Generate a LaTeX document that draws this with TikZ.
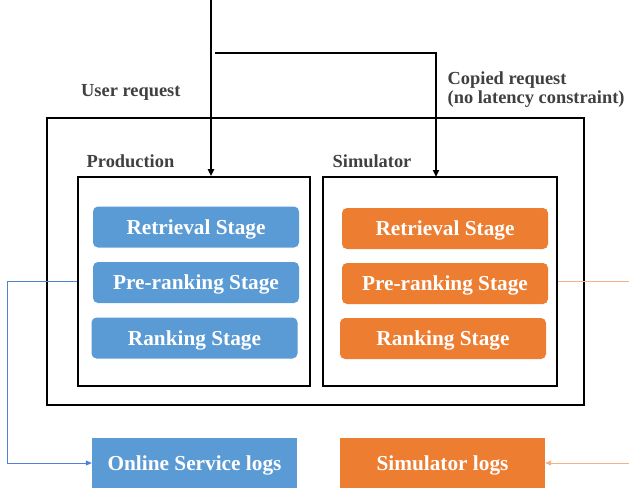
\documentclass[tikz,border=0pt]{standalone}
\usepackage{fontspec}
\setmainfont{Liberation Serif}
\usetikzlibrary{arrows.meta,calc}
\definecolor{sblue}{HTML}{5B9BD5}
\definecolor{sorange}{HTML}{ED7D31}
\definecolor{lblue}{HTML}{4F81D9}
\definecolor{lorange}{HTML}{F4B183}
\definecolor{lbl}{HTML}{404040}
\tikzset{
  stagebox/.style={rounded corners=5pt, text=white, font=\fontsize{21.3}{24}\selectfont\bfseries, minimum width=206pt, minimum height=41pt, inner sep=0pt, text height=14pt, text depth=0pt},
  bstage/.style={stagebox, fill=sblue},
  ostage/.style={stagebox, fill=sorange},
  logbox/.style={text=white, font=\fontsize{21.3}{24}\selectfont\bfseries, minimum width=205pt, minimum height=50pt, inner sep=0pt, text height=14pt, text depth=0pt},
  lab/.style={text=lbl, font=\fontsize{18.4}{22}\selectfont\bfseries, inner sep=0pt, anchor=base west},
  framebox/.style={draw=black, line width=1.6pt, minimum height=#1, inner sep=0pt},
  main/.style={line width=2pt, -{Triangle[length=7pt,width=6pt]}},
  thinline/.style={line width=0.8pt},
  thinarrow/.style={line width=0.8pt, -{Triangle[length=6pt,width=5pt]}},
}
\begin{document}
\begin{tikzpicture}[x=1pt,y=-1pt]
\useasboundingbox (0,0) rectangle (629,491);
\node[framebox=287pt, minimum width=537pt] (outer) at (315.5,261.5) {};
\node[framebox=209pt, minimum width=232pt] (prod) at (194,281.5) {};
\node[framebox=209pt, minimum width=234pt] (sim) at (440,281.5) {};
\node[bstage] (r1) at (196,227) {Retrieval Stage};
\node[bstage] (r2) at (196,282.5) {Pre-ranking Stage};
\node[bstage] (r3) at (194.5,338) {Ranking Stage};
\node[ostage] (o1) at (445,228.5) {Retrieval Stage};
\node[ostage] (o2) at (445,283.5) {Pre-ranking Stage};
\node[ostage] (o3) at (443,338.5) {Ranking Stage};
\node[logbox, fill=sblue] (onl) at (194.5,463) {Online Service logs};
\node[logbox, fill=sorange] (siml) at (442.5,463) {Simulator logs};
\node[lab] (lu) at (81,96) {User request};
\node[lab] (lc1) at (447.5,84.3) {Copied request};
\node[lab] (lc2) at (447.5,103.5) {(no latency constraint)};
\node[lab] (lp) at (86.5,167) {Production};
\node[lab] (ls) at (332.5,167) {Simulator};
\coordinate (top) at (211,0);
\coordinate (br) at (215,53);
\coordinate (simin) at (436,177);
\draw[main] (top) -- (top |- prod.north);
\draw[line width=2pt] (br) -| ($(simin)+(0,-10)$);
\draw[main] ($(simin)+(0,-11)$) -- (simin);
\coordinate (lcorner) at (7,0);
\draw[lblue, thinarrow] (prod.west) -- (prod.west -| lcorner) |- (onl.west);
\coordinate (redge) at (629,0);
\draw[lorange, thinline] (sim.east) -- (sim.east -| redge);
\draw[lorange, thinarrow] (siml.east -| redge) -- (siml.east);
\end{tikzpicture}
\end{document}
